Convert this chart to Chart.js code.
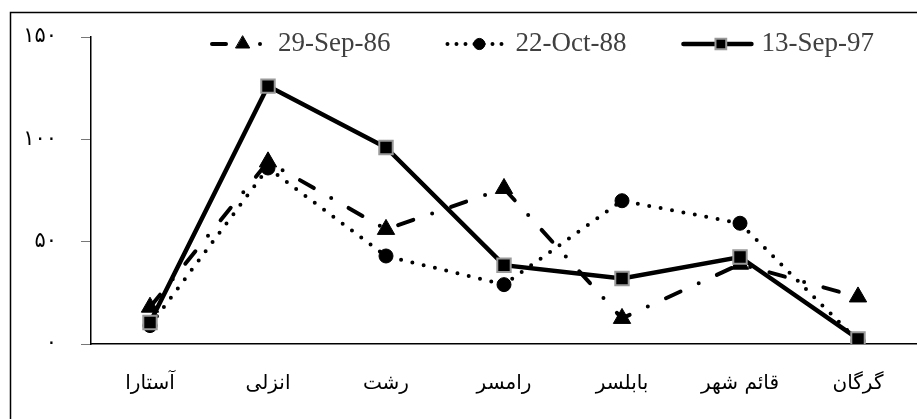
<!DOCTYPE html>
<html>
<head>
<meta charset="utf-8">
<script src="https://cdn.jsdelivr.net/npm/chart.js@4/dist/chart.umd.min.js"></script>
<style>
html, body { margin: 0; padding: 0; background: #fff; overflow: hidden; }
canvas { display: block; }
</style>
</head>
<body>
<canvas id="myChart" width="917" height="419"></canvas>
<script>
// Ciudades (eje x) y valores.
const cities = ["آستارا", "انزلی", "رشت", "رامسر", "بابلسر", "قائم شهر", "گرگان"];
const sep86 = [18, 89, 56, 76, 12.5, 39, 23];
const oct88 = [9, 86, 43, 29, 70, 59, 1.5];
const sep97 = [10.5, 126, 96, 38.5, 32, 42.5, 2.5];
const seriesNames = ["29-Sep-86", "22-Oct-88", "13-Sep-97"];
const yTickLabels = ["۰", "۵۰", "۱۰۰", "۱۵۰"];

// Marco exterior del grafico.
const frame = {
    id: 'frame',
    beforeDraw(chart) {
        const ctx = chart.ctx;
        ctx.save();
        ctx.fillStyle = '#fff';
        ctx.fillRect(0, 0, chart.width, chart.height);
        ctx.strokeStyle = '#000';
        ctx.lineWidth = 1.5;
        ctx.strokeRect(10.5, 12.5, 1000, 1000);
        ctx.restore();
    }
};

// Leyenda dibujada a mano (muestra de linea + marcador).
const legendKeys = {
    id: 'legendKeys',
    afterDatasetsDraw(chart) {
        const ctx = chart.ctx;
        const y = 44;
        let x = 212;
        ctx.save();
        ctx.font = '27px "Liberation Serif"';
        ctx.textBaseline = 'middle';
        chart.data.datasets.forEach(ds => {
            const w = ds.legendWidth;
            ctx.strokeStyle = '#000';
            ctx.lineWidth = ds.borderWidth;
            ctx.lineCap = 'round';
            ctx.setLineDash(ds.legendDash);
            ctx.beginPath();
            ctx.moveTo(x, y);
            ctx.lineTo(x + w, y);
            ctx.stroke();
            ctx.setLineDash([]);
            ctx.fillStyle = ds.pointBackgroundColor;
            ctx.strokeStyle = ds.pointBorderColor;
            ctx.lineWidth = ds.pointBorderWidth;
            Chart.helpers.drawPoint(ctx, {
                pointStyle: ds.pointStyle,
                radius: ds.pointRadius * 0.8,
                borderWidth: ds.pointBorderWidth,
                rotation: 0
            }, x + w * 0.55, y);
            ctx.fillStyle = '#404040';
            ctx.fillText(ds.label, x + w + 10, y);
            x += w + 10 + ctx.measureText(ds.label).width + 57;
        });
        ctx.restore();
    }
};

let ctx = document.getElementById('myChart');
let myChart = new Chart(ctx, {
    type: 'line',
    data: {
        labels: cities,
        datasets: [{
            label: seriesNames[0],
            data: sep86,
            borderColor: '#000',
            borderWidth: 4,
            borderDash: [16, 20, 0, 20],
            borderCapStyle: 'round',
            legendDash: [14, 34, 0, 100],
            legendWidth: 56,
            pointStyle: 'triangle',
            pointRadius: 10,
            pointBackgroundColor: '#000',
            pointBorderColor: '#000',
            pointBorderWidth: 1,
            order: 2
        }, {
            label: seriesNames[1],
            data: oct88,
            borderColor: '#000',
            borderWidth: 4,
            borderDash: [0, 11.6],
            borderCapStyle: 'round',
            legendDash: [0, 9],
            legendWidth: 58,
            pointStyle: 'circle',
            pointRadius: 7,
            pointBackgroundColor: '#000',
            pointBorderColor: '#000',
            pointBorderWidth: 1,
            order: 1
        }, {
            label: seriesNames[2],
            data: sep97,
            borderColor: '#000',
            borderWidth: 4.5,
            borderDash: [],
            legendDash: [],
            legendWidth: 68,
            pointStyle: 'rect',
            pointRadius: 9.5,
            pointBackgroundColor: '#000',
            pointBorderColor: '#999',
            pointBorderWidth: 2,
            order: 0
        }]
    },
    options: {
        responsive: false,
        animation: false,
        layout: { autoPadding: false, padding: { top: 37, right: -2, left: 0, bottom: 0 } },
        plugins: {
            legend: { display: false },
            tooltip: { enabled: false }
        },
        elements: { line: { tension: 0, fill: false } },
        scales: {
            x: {
                offset: true,
                grid: { display: false, drawTicks: false },
                border: { color: '#000', width: 1.5 },
                ticks: {
                    color: '#000',
                    padding: 28,
                    font: { family: '"DejaVu Sans"', size: 20 }
                },
                afterFit(scale) {
                    scale.height = 75;
                    scale.paddingLeft = 0;
                    scale.paddingRight = 0;
                }
            },
            y: {
                min: 0,
                max: 150,
                grid: { drawOnChartArea: false, drawTicks: true, tickLength: 10, color: '#777' },
                border: { color: '#000', width: 1.5 },
                ticks: {
                    stepSize: 50,
                    color: '#000',
                    padding: 24,
                    font: { family: '"DejaVu Sans"', size: 21 },
                    callback: (v) => yTickLabels[v / 50]
                },
                afterFit(scale) { scale.width = 91; }
            }
        }
    },
    plugins: [frame, legendKeys]
});
</script>
</body>
</html>
